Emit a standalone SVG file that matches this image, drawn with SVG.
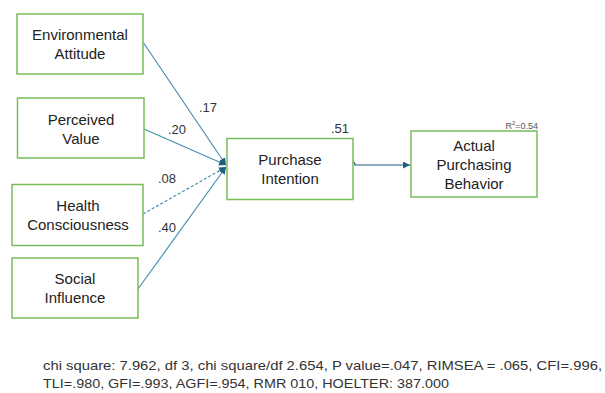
<svg xmlns="http://www.w3.org/2000/svg" width="605" height="393" viewBox="0 0 605 393">
<style>
.box{fill:#fff;stroke:#77bd5a;stroke-width:1.5}
.t{font-family:"Liberation Sans",Arial,sans-serif;font-size:15px;fill:#222;text-anchor:middle}
.l{font-family:"Liberation Sans",Arial,sans-serif;font-size:13px;fill:#333}
.c{stroke:#4a8fb5;stroke-width:1.2;fill:none}
</style>
<defs>
<marker id="ah" viewBox="0 0 10 10" refX="10" refY="5" markerWidth="7" markerHeight="7" orient="auto" markerUnits="userSpaceOnUse">
<path d="M0,0 L10,5 L0,10 z" fill="#1e5f82"/>
</marker>
</defs>
<g id="connectors">
<line class="c" x1="143" y1="42" x2="226" y2="165" marker-end="url(#ah)"/>
<line class="c" x1="144" y1="129" x2="226" y2="165" marker-end="url(#ah)"/>
<line class="c" x1="143" y1="214" x2="226" y2="167" stroke-dasharray="3,2" marker-end="url(#ah)"/>
<line class="c" x1="138" y1="289" x2="226" y2="167" marker-end="url(#ah)"/>
<path d="M353,162 Q355,162 355,165 L410,165" stroke="#1e5f82" stroke-width="1.2" fill="none" marker-end="url(#ah)"/>
</g>
<g id="ea"><rect class="box" x="17" y="14" width="126" height="60"/><text class="t" x="80" y="40">Environmental</text><text class="t" x="80" y="59">Attitude</text></g>
<g id="pv"><rect class="box" x="17.5" y="98" width="126.5" height="60"/><text class="t" x="81" y="125">Perceived</text><text class="t" x="81" y="144">Value</text></g>
<g id="hc"><rect class="box" x="12" y="184.5" width="131" height="61"/><text class="t" x="78" y="211">Health</text><text class="t" x="78" y="230">Consciousness</text></g>
<g id="si"><rect class="box" x="12" y="258" width="126" height="60"/><text class="t" x="75" y="284">Social</text><text class="t" x="75" y="303">Influence</text></g>
<g id="pi"><rect class="box" x="227" y="138.5" width="126" height="61"/><text class="t" x="290" y="165">Purchase</text><text class="t" x="290" y="184">Intention</text></g>
<g id="apb"><rect class="box" x="411" y="131" width="126" height="66"/><text class="t" x="474" y="151">Actual</text><text class="t" x="474" y="170">Purchasing</text><text class="t" x="474" y="189">Behavior</text></g>
<g id="labels">
<text class="l" x="199" y="112">.17</text>
<text class="l" x="168" y="134">.20</text>
<text class="l" x="158" y="183">.08</text>
<text class="l" x="158" y="232">.40</text>
<text class="l" x="331" y="133">.51</text>
<text x="538" y="129" text-anchor="end" font-family="Liberation Sans,Arial,sans-serif" font-size="9" fill="#555">R<tspan font-size="6" dy="-4">2</tspan><tspan dy="4">=0.54</tspan></text>
<text class="l" x="43" y="370" font-size="14" textLength="559" lengthAdjust="spacingAndGlyphs">chi square: 7.962, df 3, chi square/df 2.654, P value=.047, RIMSEA = .065, CFI=.996,</text>
<text class="l" x="43" y="388" font-size="14" textLength="406" lengthAdjust="spacingAndGlyphs">TLI=.980, GFI=.993, AGFI=.954, RMR 010, HOELTER: 387.000</text>
</g>
</svg>
